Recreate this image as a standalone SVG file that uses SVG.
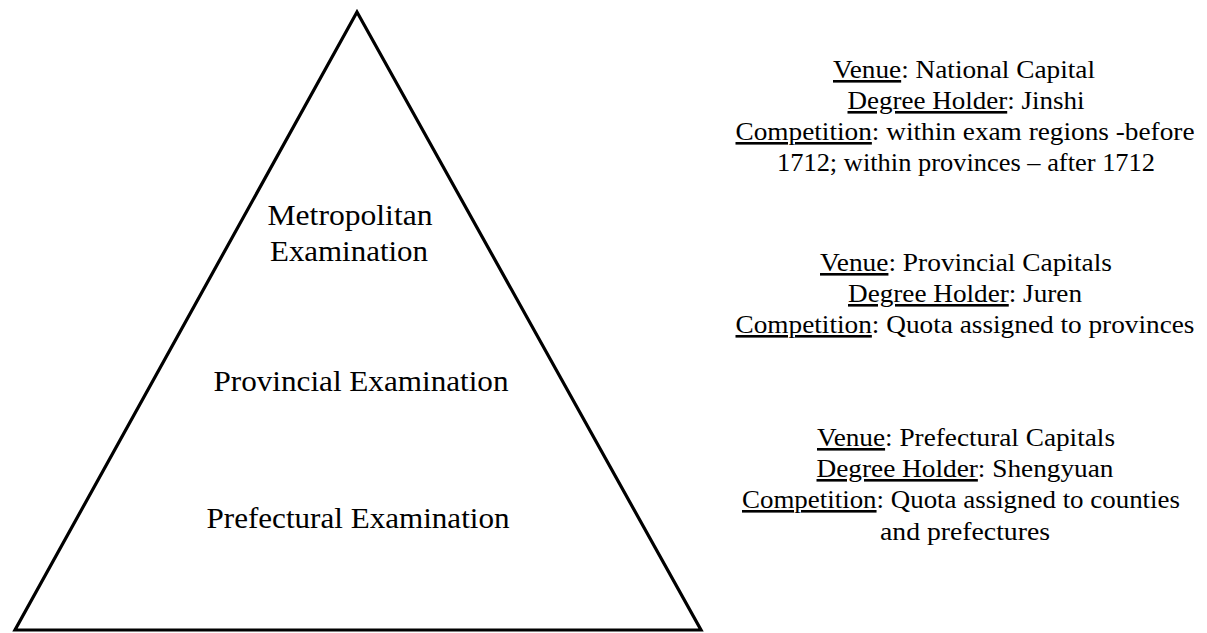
<svg xmlns="http://www.w3.org/2000/svg" width="1207" height="633" viewBox="0 0 1207 633" font-family="'Liberation Serif', 'Times New Roman', serif">
<style>
text{font-family:'Liberation Serif','Times New Roman',serif;fill:#000}
.l{font-size:29px;text-anchor:middle}
.r{font-size:26px;text-anchor:middle}
.u{text-decoration:underline}
</style>
<rect width="1207" height="633" fill="#fff"/>
<g id="pyramid">
<polygon points="357,12 15,630 701,630" fill="none" stroke="#000" stroke-width="3.2" stroke-linejoin="miter"/>
</g>
<g id="level-metropolitan">
<text class="l" x="350" y="225" textLength="165" lengthAdjust="spacingAndGlyphs">Metropolitan</text>
<text class="l" x="349" y="261" textLength="158" lengthAdjust="spacingAndGlyphs">Examination</text>
</g>
<g id="level-provincial">
<text class="l" x="361" y="391" textLength="295" lengthAdjust="spacingAndGlyphs">Provincial Examination</text>
</g>
<g id="level-prefectural">
<text class="l" x="358" y="528" textLength="303" lengthAdjust="spacingAndGlyphs">Prefectural Examination</text>
</g>
<g id="info-metropolitan">
<text class="r" x="964" y="78" textLength="262" lengthAdjust="spacingAndGlyphs"><tspan class="u">Venue</tspan>: National Capital</text>
<text class="r" x="966" y="109" textLength="237" lengthAdjust="spacingAndGlyphs"><tspan class="u">Degree Holder</tspan>: Jinshi</text>
<text class="r" x="965" y="140" textLength="459" lengthAdjust="spacingAndGlyphs"><tspan class="u">Competition</tspan>: within exam regions -before</text>
<text class="r" x="966" y="171" textLength="378" lengthAdjust="spacingAndGlyphs">1712; within provinces – after 1712</text>
</g>
<g id="info-provincial">
<text class="r" x="966" y="271" textLength="292" lengthAdjust="spacingAndGlyphs"><tspan class="u">Venue</tspan>: Provincial Capitals</text>
<text class="r" x="965" y="302" textLength="234" lengthAdjust="spacingAndGlyphs"><tspan class="u">Degree Holder</tspan>: Juren</text>
<text class="r" x="965" y="333" textLength="459" lengthAdjust="spacingAndGlyphs"><tspan class="u">Competition</tspan>: Quota assigned to provinces</text>
</g>
<g id="info-prefectural">
<text class="r" x="966" y="446" textLength="298" lengthAdjust="spacingAndGlyphs"><tspan class="u">Venue</tspan>: Prefectural Capitals</text>
<text class="r" x="965" y="477" textLength="297" lengthAdjust="spacingAndGlyphs"><tspan class="u">Degree Holder</tspan>: Shengyuan</text>
<text class="r" x="961" y="508" textLength="438" lengthAdjust="spacingAndGlyphs"><tspan class="u">Competition</tspan>: Quota assigned to counties</text>
<text class="r" x="965" y="540" textLength="170" lengthAdjust="spacingAndGlyphs">and prefectures</text>
</g>
</svg>
